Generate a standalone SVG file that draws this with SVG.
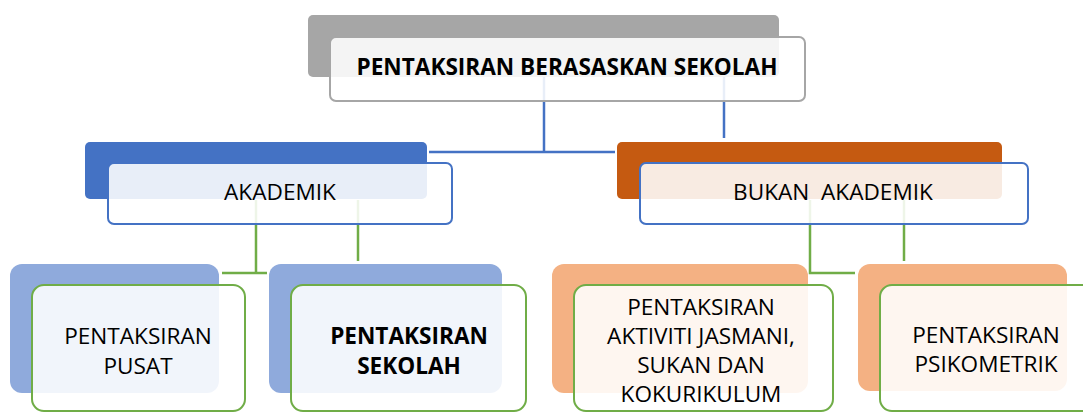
<svg xmlns="http://www.w3.org/2000/svg" width="1083" height="412" viewBox="0 0 1083 412">
<style>
text{font-family:"Open Sans","Noto Sans","Liberation Sans",sans-serif;font-size:22.6px;fill:#000;text-anchor:middle}
.b{font-weight:bold}
.front{fill:#fff;fill-opacity:0.88;stroke-width:2}
.blue{stroke:#4472c4}
.green{stroke:#70ad47}
.gray{stroke:#a6a6a6}
.cb{stroke:#4472c4;stroke-width:2.5;fill:none}
.cg{stroke:#70ad47;stroke-width:2.5;fill:none}
</style>
<rect width="1083" height="412" fill="#fff"/>
<g id="connectors">
<polyline class="cb" points="544,77 544,152"/>
<polyline class="cb" points="429,152 615,152"/>
<polyline class="cb" points="724,77 724,138"/>
<polyline class="cg" points="256,200 256,273"/>
<polyline class="cg" points="222,273 267,273"/>
<polyline class="cg" points="358,200 358,261"/>
<polyline class="cg" points="810,200 810,273 855,273"/>
<polyline class="cg" points="904,200 904,261"/>
</g>
<g id="root">
<rect x="308" y="15" width="471" height="62" rx="5" fill="#a6a6a6"/>
<rect class="front gray" x="330" y="37" width="475" height="64" rx="6"/>
<text class="b" x="567" y="75">PENTAKSIRAN BERASASKAN SEKOLAH</text>
</g>
<g id="akademik">
<rect x="85" y="142" width="342" height="57" rx="5" fill="#4472c4"/>
<rect class="front blue" x="108" y="163" width="344" height="61" rx="6"/>
<text x="280" y="200">AKADEMIK</text>
</g>
<g id="bukan-akademik">
<rect x="617" y="142" width="385" height="57" rx="5" fill="#c55a11"/>
<rect class="front blue" x="640" y="163" width="388" height="61" rx="6"/>
<text x="833" y="200" xml:space="preserve">BUKAN  AKADEMIK</text>
</g>
<g id="pusat">
<rect x="10" y="264" width="209" height="129" rx="12" fill="#8faadc"/>
<rect class="front green" x="32" y="285" width="213" height="126" rx="12"/>
<text x="138" y="344">PENTAKSIRAN</text>
<text x="138" y="374">PUSAT</text>
</g>
<g id="sekolah">
<rect x="269" y="264" width="233" height="129" rx="12" fill="#8faadc"/>
<rect class="front green" x="291" y="285" width="235" height="126" rx="12"/>
<text class="b" x="409" y="344">PENTAKSIRAN</text>
<text class="b" x="409" y="374">SEKOLAH</text>
</g>
<g id="aktiviti">
<rect x="552" y="264" width="256" height="129" rx="12" fill="#f4b183"/>
<rect class="front green" x="574" y="285" width="259" height="126" rx="12"/>
<text x="701" y="315">PENTAKSIRAN</text>
<text x="701" y="344">AKTIVITI JASMANI,</text>
<text x="701" y="373">SUKAN DAN</text>
<text x="701" y="402">KOKURIKULUM</text>
</g>
<g id="psikometrik">
<rect x="858" y="264" width="209" height="127" rx="12" fill="#f4b183"/>
<rect class="front green" x="880" y="285" width="215" height="126" rx="12"/>
<text x="986" y="343">PENTAKSIRAN</text>
<text x="986" y="372">PSIKOMETRIK</text>
</g>
</svg>
